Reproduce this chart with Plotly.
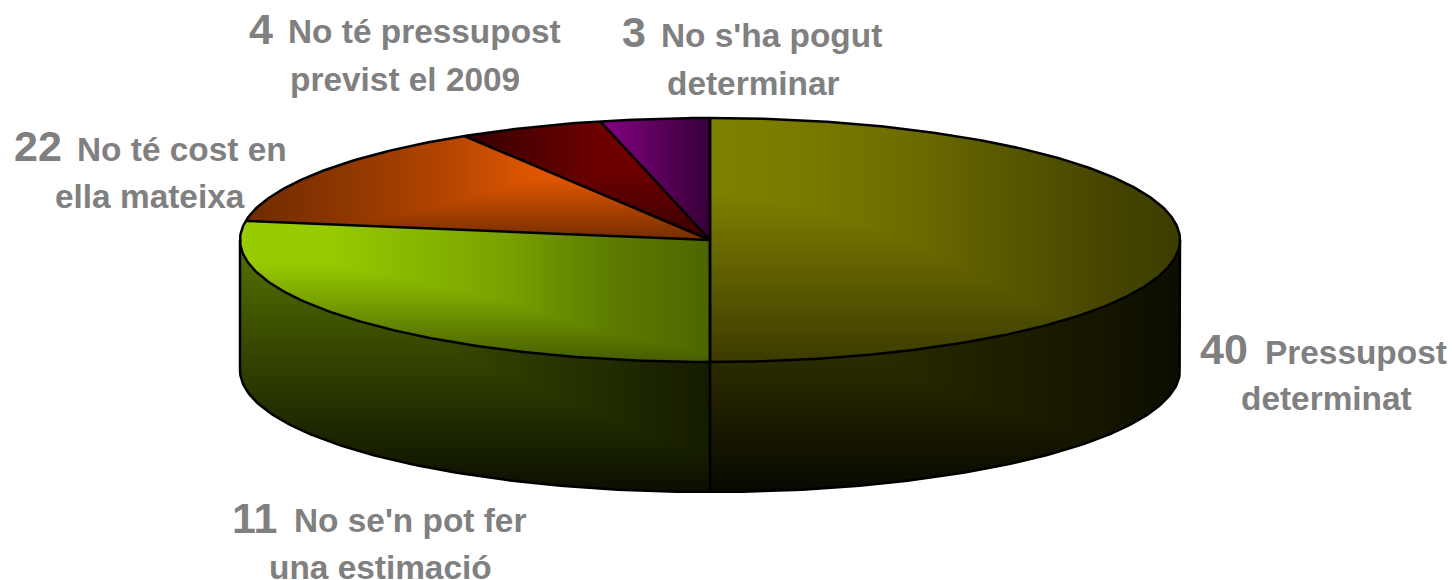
import numpy as np
import plotly.graph_objects as go

# Data
values = [40, 22, 11, 4, 3]
slice_names = ["Pressupost determinat", "No té cost en ella mateixa", "No se'n pot fer una estimació",
               "No té pressupost previst el 2009", "No s'ha pogut determinar"]
slice_colors = ["#808000", "#99cc00", "#dd5500", "#6e0000", "#800080"]

# Drawn labels: number, first line, second line
label_numbers = ["40", "11", "22", "4", "3"]
label_line1 = ["Pressupost", "No se'n pot fer", "No té cost en", "No té pressupost", "No s'ha pogut"]
label_line2 = ["determinat", "una estimació", "ella mateixa", "previst el 2009", "determinar"]
num_pos = [(1200, 349), (232, 518), (14, 146), (249, 29), (622, 32)]
l1_pos = [(1265, 352), (294, 520), (77, 149), (288, 31), (661, 35)]
l2_pos = [(1326, 398), (380, 567), (150, 196), (405, 79), (753, 83)]

# Pie geometry in pixels
CX, CY, RX, RY, DEPTH = 710.0, 240.0, 470.0, 122.0, 130.0

# brightness ramps: (x stops, x levels, y stops, y levels)
top_shade = [
    ([710, 800, 900, 1000, 1100, 1180], [1.0, 0.95, 0.86, 0.70, 0.55, 0.47], [190, 362], [1.0, 0.46]),
    ([240, 320, 500, 600, 710], [1.0, 1.0, 0.8, 0.62, 0.5], [262, 362], [1.0, 0.45]),
    ([240, 350, 450, 530, 710], [0.5, 0.65, 0.82, 1.0, 1.0], [180, 240], [1.0, 0.52]),
    ([467, 600, 710], [0.5, 1.0, 1.0], [170, 240], [1.0, 0.5]),
    ([607, 710], [1.0, 0.42], [100, 240], [1.0, 1.0]),
]
side_shade = [
    ([710, 1180], [0.46, 0.10], [300, 492], [0.46, 0.06]),
    ([240, 710], [0.52, 0.13], [262, 492], [0.52, 0.07]),
]

cum = np.cumsum([0] + values) / sum(values) * 2 * np.pi
xs = np.arange(238, 1183)
ys = np.arange(116, 495)
GX, GY = np.meshgrid(xs, ys)
U, V = (GX - CX) / RX, (GY - CY) / RY
THETA = np.mod(np.arctan2(U, -V), 2 * np.pi)
INSIDE = U ** 2 + V ** 2 <= 1.0


def brightness(shade):
    xp, xv, yp, yv = shade
    return np.minimum(np.interp(GX, xp, xv), np.interp(GY, yp, yv))


def add_face(fig, z, mask, color):
    rows = np.where(mask.any(axis=1))[0]
    cols = np.where(mask.any(axis=0))[0]
    r0, r1, c0, c1 = rows[0], rows[-1] + 1, cols[0], cols[-1] + 1
    zz = np.where(mask, z, np.nan)[r0:r1, c0:c1]
    fig.add_trace(go.Heatmap(x=xs[c0:c1], y=ys[r0:r1], z=np.round(zz, 3).astype(np.float32),
                             zmin=0, zmax=1, colorscale=[[0, "#000000"], [1, color]],
                             showscale=False, hoverinfo="skip", zsmooth=False))


def arc(a0, a1, dy=0.0, n=200):
    t = np.linspace(a0, a1, n)
    return CX + RX * np.sin(t), CY + dy - RY * np.cos(t)


def line(fig, x, y):
    fig.add_trace(go.Scatter(x=x, y=y, mode="lines", line=dict(color="#000000", width=2.5),
                             hoverinfo="skip", showlegend=False))


fig = go.Figure()

# side walls: visible below the top ellipse
V_low = (GY - CY - DEPTH) / RY
in_wall = (np.abs(U) <= 1.0) & (U ** 2 + V_low ** 2 <= 1.0) | ((np.abs(U) <= 1.0) & (GY >= CY) & (GY <= CY + DEPTH))
in_wall = in_wall & ~INSIDE & (GY >= CY)
add_face(fig, brightness(side_shade[0]), in_wall & (GX >= CX), slice_colors[0])
add_face(fig, brightness(side_shade[1]), in_wall & (GX < CX), slice_colors[1])

# top faces
for i, col in enumerate(slice_colors):
    add_face(fig, brightness(top_shade[i]), INSIDE & (THETA >= cum[i]) & (THETA < cum[i + 1]), col)

# outlines
ax, ay = arc(0, 2 * np.pi, n=500)
line(fig, ax, ay)
bx, by = arc(np.pi / 2, 3 * np.pi / 2, dy=DEPTH)
line(fig, [CX + RX] + list(bx) + [CX - RX], [CY] + list(by) + [CY])
line(fig, [CX, CX], [CY + RY, CY + RY + DEPTH])
for a in cum[:-1]:
    ex, ey = arc(a, a, n=1)
    line(fig, [CX, ex[0]], [CY, ey[0]])
line(fig, [CX, CX], [CY - RY, CY + RY])

ann = []
GREY = "#808080"
for i in range(len(label_numbers)):
    ann.append(dict(x=num_pos[i][0], y=num_pos[i][1], text=label_numbers[i], xanchor="left", yanchor="middle",
                    showarrow=False, xref="x", yref="y", xshift=-2, font=dict(family="Liberation Sans", size=43, color=GREY, weight="bold")))
    ann.append(dict(x=l1_pos[i][0], y=l1_pos[i][1], text=label_line1[i], xanchor="left", yanchor="middle",
                    showarrow=False, xref="x", yref="y", xshift=-2, font=dict(family="Liberation Sans", size=33.4, color=GREY, weight="bold")))
    ann.append(dict(x=l2_pos[i][0], y=l2_pos[i][1], text=label_line2[i], xanchor="center", yanchor="middle",
                    showarrow=False, xref="x", yref="y", font=dict(family="Liberation Sans", size=33.4, color=GREY, weight="bold")))

fig.update_layout(
    width=1452, height=580, margin=dict(l=0, r=0, t=0, b=0),
    paper_bgcolor="#ffffff", plot_bgcolor="#ffffff", showlegend=False,
    xaxis=dict(range=[0, 1452], visible=False, fixedrange=True),
    yaxis=dict(range=[580, 0], visible=False, fixedrange=True),
    annotations=ann,
)
fig.write_html("out.html", config={"displayModeBar": False},
               post_script="document.body.style.margin='0';")
